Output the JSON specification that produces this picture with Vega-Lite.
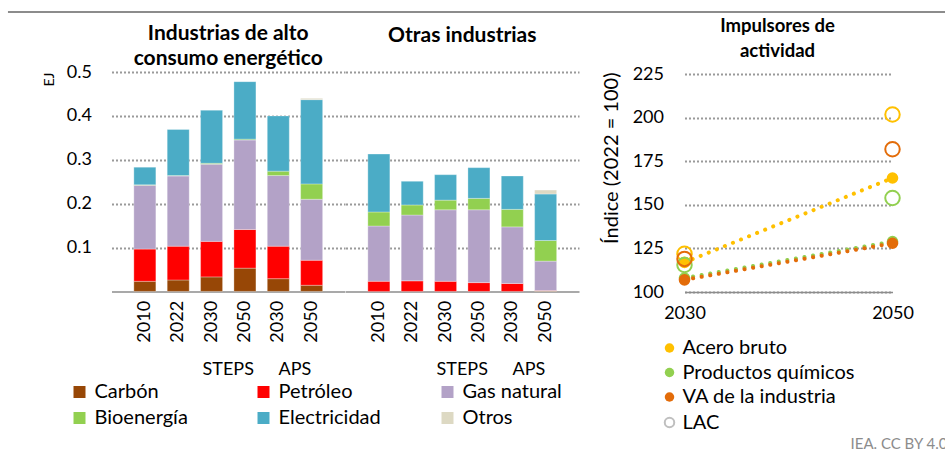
{
  "$schema": "https://vega.github.io/schema/vega-lite/v6.json",
  "padding": {"left": 6.5, "top": 11, "right": 0, "bottom": 0},
  "config": {
    "font": "Lato",
    "view": {"stroke": null},
    "axis": {"labelColor": "#000000", "titleColor": "#000000", "labelFontSize": 18, "labelFont": "Lato", "titleFont": "Lato"},
    "title": {"color": "#000000", "font": "Lato", "subtitleColor": "#000000", "subtitleFont": "Lato", "subtitleFontSize": 21, "subtitleFontWeight": "bold", "subtitlePadding": 4},
    "legend": {"labelFont": "Lato", "labelColor": "#000000", "labelLimit": 400}
  },
  "title": {"text": "IEA. CC BY 4.0", "orient": "bottom", "anchor": "end", "frame": "bounds", "fontSize": 15, "fontWeight": "normal", "color": "#8c8c8c", "offset": 4},
  "datasets": {
    "energia": [
      {"panel": "A", "bar": "2010", "grp": "H", "fuel": "Carbón", "ord": 1, "value": 0.023},
      {"panel": "A", "bar": "2010", "grp": "H", "fuel": "Petróleo", "ord": 2, "value": 0.0735},
      {"panel": "A", "bar": "2010", "grp": "H", "fuel": "Gas natural", "ord": 3, "value": 0.1455},
      {"panel": "A", "bar": "2010", "grp": "H", "fuel": "Bioenergía", "ord": 4, "value": 0.001},
      {"panel": "A", "bar": "2010", "grp": "H", "fuel": "Electricidad", "ord": 5, "value": 0.040},
      {"panel": "A", "bar": "2022", "grp": "H", "fuel": "Carbón", "ord": 1, "value": 0.026},
      {"panel": "A", "bar": "2022", "grp": "H", "fuel": "Petróleo", "ord": 2, "value": 0.077},
      {"panel": "A", "bar": "2022", "grp": "H", "fuel": "Gas natural", "ord": 3, "value": 0.160},
      {"panel": "A", "bar": "2022", "grp": "H", "fuel": "Bioenergía", "ord": 4, "value": 0.001},
      {"panel": "A", "bar": "2022", "grp": "H", "fuel": "Electricidad", "ord": 5, "value": 0.105},
      {"panel": "A", "bar": "2030S", "grp": "STEPS", "fuel": "Carbón", "ord": 1, "value": 0.033},
      {"panel": "A", "bar": "2030S", "grp": "STEPS", "fuel": "Petróleo", "ord": 2, "value": 0.081},
      {"panel": "A", "bar": "2030S", "grp": "STEPS", "fuel": "Gas natural", "ord": 3, "value": 0.176},
      {"panel": "A", "bar": "2030S", "grp": "STEPS", "fuel": "Bioenergía", "ord": 4, "value": 0.002},
      {"panel": "A", "bar": "2030S", "grp": "STEPS", "fuel": "Electricidad", "ord": 5, "value": 0.121},
      {"panel": "A", "bar": "2050S", "grp": "STEPS", "fuel": "Carbón", "ord": 1, "value": 0.053},
      {"panel": "A", "bar": "2050S", "grp": "STEPS", "fuel": "Petróleo", "ord": 2, "value": 0.088},
      {"panel": "A", "bar": "2050S", "grp": "STEPS", "fuel": "Gas natural", "ord": 3, "value": 0.204},
      {"panel": "A", "bar": "2050S", "grp": "STEPS", "fuel": "Bioenergía", "ord": 4, "value": 0.002},
      {"panel": "A", "bar": "2050S", "grp": "STEPS", "fuel": "Electricidad", "ord": 5, "value": 0.131},
      {"panel": "A", "bar": "2030A", "grp": "APS", "fuel": "Carbón", "ord": 1, "value": 0.029},
      {"panel": "A", "bar": "2030A", "grp": "APS", "fuel": "Petróleo", "ord": 2, "value": 0.074},
      {"panel": "A", "bar": "2030A", "grp": "APS", "fuel": "Gas natural", "ord": 3, "value": 0.161},
      {"panel": "A", "bar": "2030A", "grp": "APS", "fuel": "Bioenergía", "ord": 4, "value": 0.010},
      {"panel": "A", "bar": "2030A", "grp": "APS", "fuel": "Electricidad", "ord": 5, "value": 0.126},
      {"panel": "A", "bar": "2050A", "grp": "APS", "fuel": "Carbón", "ord": 1, "value": 0.014},
      {"panel": "A", "bar": "2050A", "grp": "APS", "fuel": "Petróleo", "ord": 2, "value": 0.057},
      {"panel": "A", "bar": "2050A", "grp": "APS", "fuel": "Gas natural", "ord": 3, "value": 0.139},
      {"panel": "A", "bar": "2050A", "grp": "APS", "fuel": "Bioenergía", "ord": 4, "value": 0.035},
      {"panel": "A", "bar": "2050A", "grp": "APS", "fuel": "Electricidad", "ord": 5, "value": 0.192},
      {"panel": "A", "bar": "2050A", "grp": "APS", "fuel": "Otros", "ord": 6, "value": 0.003},
      {"panel": "B", "bar": "2010", "grp": "H", "fuel": "Petróleo", "ord": 2, "value": 0.023},
      {"panel": "B", "bar": "2010", "grp": "H", "fuel": "Gas natural", "ord": 3, "value": 0.126},
      {"panel": "B", "bar": "2010", "grp": "H", "fuel": "Bioenergía", "ord": 4, "value": 0.032},
      {"panel": "B", "bar": "2010", "grp": "H", "fuel": "Electricidad", "ord": 5, "value": 0.132},
      {"panel": "B", "bar": "2022", "grp": "H", "fuel": "Petróleo", "ord": 2, "value": 0.024},
      {"panel": "B", "bar": "2022", "grp": "H", "fuel": "Gas natural", "ord": 3, "value": 0.150},
      {"panel": "B", "bar": "2022", "grp": "H", "fuel": "Bioenergía", "ord": 4, "value": 0.023},
      {"panel": "B", "bar": "2022", "grp": "H", "fuel": "Electricidad", "ord": 5, "value": 0.054},
      {"panel": "B", "bar": "2030S", "grp": "STEPS", "fuel": "Petróleo", "ord": 2, "value": 0.023},
      {"panel": "B", "bar": "2030S", "grp": "STEPS", "fuel": "Gas natural", "ord": 3, "value": 0.163},
      {"panel": "B", "bar": "2030S", "grp": "STEPS", "fuel": "Bioenergía", "ord": 4, "value": 0.022},
      {"panel": "B", "bar": "2030S", "grp": "STEPS", "fuel": "Electricidad", "ord": 5, "value": 0.058},
      {"panel": "B", "bar": "2050S", "grp": "STEPS", "fuel": "Petróleo", "ord": 2, "value": 0.020},
      {"panel": "B", "bar": "2050S", "grp": "STEPS", "fuel": "Gas natural", "ord": 3, "value": 0.166},
      {"panel": "B", "bar": "2050S", "grp": "STEPS", "fuel": "Bioenergía", "ord": 4, "value": 0.026},
      {"panel": "B", "bar": "2050S", "grp": "STEPS", "fuel": "Electricidad", "ord": 5, "value": 0.070},
      {"panel": "B", "bar": "2030A", "grp": "APS", "fuel": "Petróleo", "ord": 2, "value": 0.018},
      {"panel": "B", "bar": "2030A", "grp": "APS", "fuel": "Gas natural", "ord": 3, "value": 0.129},
      {"panel": "B", "bar": "2030A", "grp": "APS", "fuel": "Bioenergía", "ord": 4, "value": 0.040},
      {"panel": "B", "bar": "2030A", "grp": "APS", "fuel": "Electricidad", "ord": 5, "value": 0.076},
      {"panel": "B", "bar": "2050A", "grp": "APS", "fuel": "Carbón", "ord": 1, "value": 0.001},
      {"panel": "B", "bar": "2050A", "grp": "APS", "fuel": "Petróleo", "ord": 2, "value": 0.001},
      {"panel": "B", "bar": "2050A", "grp": "APS", "fuel": "Gas natural", "ord": 3, "value": 0.067},
      {"panel": "B", "bar": "2050A", "grp": "APS", "fuel": "Bioenergía", "ord": 4, "value": 0.047},
      {"panel": "B", "bar": "2050A", "grp": "APS", "fuel": "Electricidad", "ord": 5, "value": 0.106},
      {"panel": "B", "bar": "2050A", "grp": "APS", "fuel": "Otros", "ord": 6, "value": 0.009}
    ],
    "impulsores": [
      {"serie": "Productos químicos", "tipo": "Mundo", "year": 2030, "value": 108},
      {"serie": "Productos químicos", "tipo": "Mundo", "year": 2050, "value": 129},
      {"serie": "Acero bruto", "tipo": "Mundo", "year": 2030, "value": 117},
      {"serie": "Acero bruto", "tipo": "Mundo", "year": 2050, "value": 165.5},
      {"serie": "VA de la industria", "tipo": "Mundo", "year": 2030, "value": 107},
      {"serie": "VA de la industria", "tipo": "Mundo", "year": 2050, "value": 128},
      {"serie": "Acero bruto", "tipo": "LAC", "year": 2030, "value": 122},
      {"serie": "Acero bruto", "tipo": "LAC", "year": 2050, "value": 202},
      {"serie": "Productos químicos", "tipo": "LAC", "year": 2030, "value": 115.5},
      {"serie": "Productos químicos", "tipo": "LAC", "year": 2050, "value": 154},
      {"serie": "VA de la industria", "tipo": "LAC", "year": 2030, "value": 119},
      {"serie": "VA de la industria", "tipo": "LAC", "year": 2050, "value": 182}
    ]
  },
  "spacing": 4,
  "resolve": {"scale": {"color": "independent", "fill": "independent", "stroke": "independent", "shape": "independent", "x": "independent", "y": "independent"}, "legend": {"color": "independent", "fill": "independent", "stroke": "independent", "shape": "independent"}},
  "vconcat": [
    {
      "width": 835,
      "height": 2,
      "data": {"values": [{}]},
      "mark": {"type": "rule", "color": "#8c8c8c", "strokeWidth": 2, "opacity": 1},
      "encoding": {
        "x": {"datum": -0.124, "type": "quantitative", "axis": null, "scale": {"domain": [0, 1], "nice": false, "zero": false}},
        "x2": {"datum": 1},
        "y": {"datum": 0.5, "type": "quantitative", "axis": null, "scale": {"domain": [0, 1], "nice": false}}
      }
    },
    {
      "spacing": 21,
      "resolve": {"scale": {"color": "independent", "fill": "independent", "stroke": "independent", "shape": "independent", "x": "independent", "y": "independent"}, "legend": {"color": "independent", "fill": "independent", "stroke": "independent", "shape": "independent"}},
      "hconcat": [
        {
          "spacing": 0,
          "resolve": {"scale": {"color": "shared", "x": "independent", "y": "independent"}, "legend": {"color": "shared"}},
          "hconcat": [
            {
              "width": 233.5,
              "height": 219.4,
              "title": {"text": "Industrias de alto", "subtitle": "consumo energético", "fontSize": 21, "fontWeight": "bold", "anchor": "middle", "offset": -6},
              "data": {"name": "energia"},
              "transform": [{"filter": "datum.panel == 'A'"}],
              "layer": [
                {
                  "mark": {"type": "bar", "stroke": "#ffffff", "strokeWidth": 0.5, "strokeOpacity": 0.6},
                  "encoding": {
                    "x": {"field": "bar", "type": "nominal", "scale": {"domain": ["2010", "2022", "2030S", "2050S", "2030A", "2050A"], "paddingInner": 0.34, "paddingOuter": 0.67},
                      "axis": {"title": null, "labelAngle": -90, "labelExpr": "slice(datum.value, 0, 4)", "ticks": false, "tickSize": 0, "labelPadding": 9, "domainColor": "#8c8c8c", "domainWidth": 1.5, "grid": false, "labelFontSize": 18}},
                    "y": {"field": "value", "type": "quantitative", "stack": "zero", "scale": {"domain": [0, 0.5], "nice": false},
                      "axis": {"title": "EJ", "values": [0.1, 0.2, 0.3, 0.4, 0.5], "format": ".1f", "grid": true, "gridDash": [2, 2], "gridColor": "#9a9a9a", "gridWidth": 1.8, "domain": false, "ticks": false, "tickSize": 0, "labelPadding": 20, "titleFontSize": 14, "titleFontWeight": "normal", "titleAnchor": "end", "titlePadding": 10}},
                    "color": {"field": "fuel", "type": "nominal",
                      "scale": {"domain": ["Carbón", "Petróleo", "Gas natural", "Bioenergía", "Electricidad", "Otros"], "range": ["#974706", "#FF0000", "#B3A2C7", "#92D050", "#4BACC6", "#DDD9C3"]},
                      "legend": {"orient": "none", "legendX": -42, "legendY": 310, "direction": "horizontal", "columns": 3, "gridAlign": "all", "title": null, "symbolType": "square", "symbolSize": 144, "symbolStrokeWidth": 0, "labelFontSize": 20, "columnPadding": 56, "rowPadding": 6, "labelOffset": 5, "padding": 0}},
                    "order": {"field": "ord", "type": "quantitative"}
                  }
                },
                {
                  "mark": {"type": "bar", "opacity": 0},
                  "encoding": {
                    "x": {"field": "grp", "type": "nominal", "scale": {"domain": ["H", "STEPS", "APS"], "paddingInner": 0, "paddingOuter": 0.25},
                      "axis": {"orient": "bottom", "title": null, "labelAngle": 0, "labelExpr": "datum.value == 'H' ? '' : datum.value", "domain": false, "ticks": false, "tickSize": 0, "offset": 64, "labelPadding": 5, "grid": false, "labelFontSize": 18}},
                    "y": {"datum": 0, "type": "quantitative"}
                  }
                }
              ],
              "resolve": {"scale": {"x": "independent"}, "axis": {"x": "independent"}}
            },
            {
              "width": 233.5,
              "height": 219.4,
              "title": {"text": "Otras industrias", "subtitle": " ", "fontSize": 21, "fontWeight": "bold", "anchor": "middle", "offset": 1.3},
              "data": {"name": "energia"},
              "transform": [{"filter": "datum.panel == 'B'"}],
              "layer": [
                {
                  "mark": {"type": "bar", "stroke": "#ffffff", "strokeWidth": 0.5, "strokeOpacity": 0.6},
                  "encoding": {
                    "x": {"field": "bar", "type": "nominal", "scale": {"domain": ["2010", "2022", "2030S", "2050S", "2030A", "2050A"], "paddingInner": 0.34, "paddingOuter": 0.67},
                      "axis": {"title": null, "labelAngle": -90, "labelExpr": "slice(datum.value, 0, 4)", "ticks": false, "tickSize": 0, "labelPadding": 9, "domainColor": "#8c8c8c", "domainWidth": 1.5, "grid": false, "labelFontSize": 18}},
                    "y": {"field": "value", "type": "quantitative", "stack": "zero", "scale": {"domain": [0, 0.5], "nice": false},
                      "axis": {"title": null, "values": [0.1, 0.2, 0.3, 0.4, 0.5], "labels": false, "grid": true, "gridDash": [2, 2], "gridColor": "#9a9a9a", "gridWidth": 1.8, "domain": false, "ticks": false, "tickSize": 0}},
                    "color": {"field": "fuel", "type": "nominal",
                      "scale": {"domain": ["Carbón", "Petróleo", "Gas natural", "Bioenergía", "Electricidad", "Otros"], "range": ["#974706", "#FF0000", "#B3A2C7", "#92D050", "#4BACC6", "#DDD9C3"]},
                      "legend": {"orient": "none", "legendX": -42, "legendY": 310, "direction": "horizontal", "columns": 3, "gridAlign": "all", "title": null, "symbolType": "square", "symbolSize": 144, "symbolStrokeWidth": 0, "labelFontSize": 20, "columnPadding": 56, "rowPadding": 6, "labelOffset": 5, "padding": 0}},
                    "order": {"field": "ord", "type": "quantitative"}
                  }
                },
                {
                  "mark": {"type": "bar", "opacity": 0},
                  "encoding": {
                    "x": {"field": "grp", "type": "nominal", "scale": {"domain": ["H", "STEPS", "APS"], "paddingInner": 0, "paddingOuter": 0.25},
                      "axis": {"orient": "bottom", "title": null, "labelAngle": 0, "labelExpr": "datum.value == 'H' ? '' : datum.value", "domain": false, "ticks": false, "tickSize": 0, "offset": 64, "labelPadding": 5, "grid": false, "labelFontSize": 18}},
                    "y": {"datum": 0, "type": "quantitative"}
                  }
                }
              ],
              "resolve": {"scale": {"x": "independent"}, "axis": {"x": "independent"}}
            }
          ]
        },
        {
          "width": 208,
          "height": 220,
          "title": {"text": "Impulsores de", "subtitle": "actividad", "fontSize": 18.5, "subtitleFontSize": 18.5, "fontWeight": "bold", "anchor": "middle", "offset": 5, "dx": -11, "subtitlePadding": 6},
          "data": {"name": "impulsores"},
          "encoding": {
            "x": {"field": "year", "type": "quantitative", "scale": {"domain": [2030, 2050], "nice": false, "zero": false},
              "axis": {"title": null, "values": [2030, 2050], "format": "d", "grid": false, "ticks": false, "tickSize": 0, "labelPadding": 12, "labelFlush": false, "domainColor": "#8c8c8c", "domainWidth": 1.5, "labelFontSize": 18}},
            "y": {"field": "value", "type": "quantitative", "scale": {"domain": [100, 226.4], "nice": false, "zero": false},
              "axis": {"title": "Índice (2022 = 100)", "titleFontSize": 20, "titleFontWeight": "normal", "titleAnchor": "end", "titlePadding": 11, "values": [100, 125, 150, 175, 200, 225], "grid": true, "gridDash": [2, 2], "gridColor": "#9a9a9a", "gridWidth": 1.8, "domain": false, "ticks": false, "tickSize": 0, "labelPadding": 21}}
          },
          "layer": [
            {
              "transform": [{"filter": "datum.tipo == 'Mundo'"}],
              "mark": {"type": "line", "strokeWidth": 4, "strokeDash": [0.1, 8.6], "strokeCap": "round"},
              "encoding": {
                "stroke": {"field": "serie", "type": "nominal",
                  "scale": {"domain": ["Acero bruto", "Productos químicos", "VA de la industria", "LAC"], "range": ["#FFC000", "#92D050", "#E36C09", "#BFBFBF"]},
                  "legend": null}
              }
            },
            {
              "transform": [{"filter": "datum.tipo == 'Mundo'"}],
              "mark": {"type": "circle", "size": 135, "opacity": 1},
              "encoding": {
                "color": {"field": "serie", "type": "nominal",
                  "scale": {"domain": ["Acero bruto", "Productos químicos", "VA de la industria"], "range": ["#FFC000", "#92D050", "#E36C09"]},
                  "legend": {"orient": "none", "legendX": -25, "legendY": 266, "title": null, "symbolType": "circle", "symbolSize": 90, "symbolStrokeWidth": 0, "labelFontSize": 20, "labelLimit": 400, "rowPadding": 4.5, "labelOffset": 3, "direction": "vertical", "padding": 0}}
              }
            },
            {
              "transform": [{"filter": "datum.tipo == 'LAC'"}],
              "mark": {"type": "point", "size": 210, "strokeWidth": 2, "filled": false, "opacity": 1},
              "encoding": {
                "stroke": {"field": "serie", "type": "nominal",
                  "scale": {"domain": ["Acero bruto", "Productos químicos", "VA de la industria", "LAC"], "range": ["#FFC000", "#92D050", "#E36C09", "#BFBFBF"]},
                  "legend": null},
                "shape": {"field": "tipo", "type": "nominal", "scale": {"domain": ["LAC"], "range": ["circle"]},
                  "legend": {"orient": "none", "legendX": -25, "legendY": 340.5, "title": null, "symbolSize": 90, "symbolStrokeWidth": 2, "symbolStrokeColor": "#BFBFBF", "symbolFillColor": "transparent", "labelFontSize": 20, "labelOffset": 3, "padding": 0}}
              }
            }
          ]
        }
      ]
    }
  ]
}
